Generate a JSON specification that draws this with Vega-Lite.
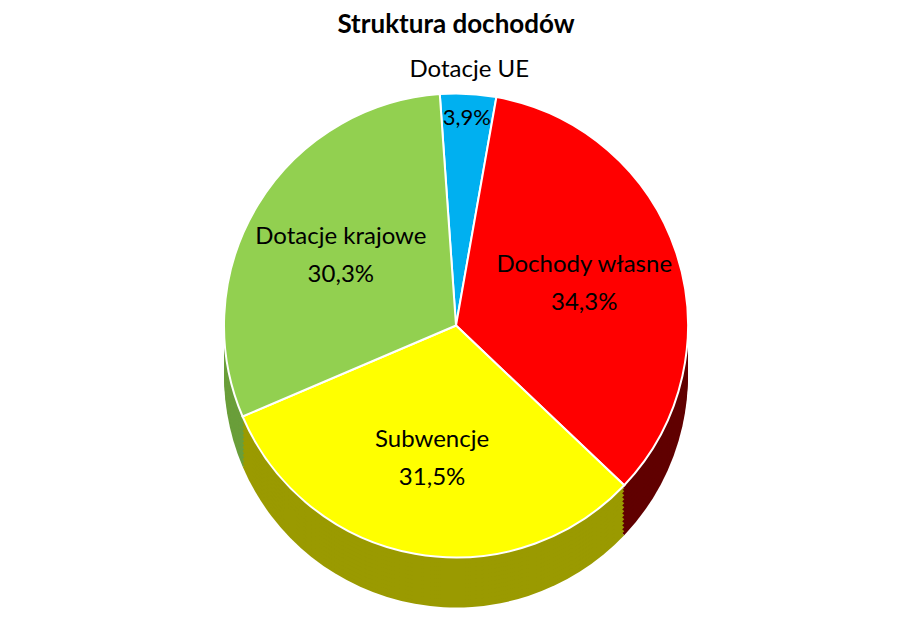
{
  "$schema": "https://vega.github.io/schema/vega-lite/v6.json",
  "width": 912,
  "height": 631,
  "autosize": {"type": "fit", "contains": "padding"},
  "padding": {"top": 12, "left": 0, "right": 0, "bottom": 0},
  "background": "white",
  "title": {"text": "Struktura dochodów", "font": "Lato", "fontSize": 26, "fontWeight": "bold", "color": "#000000", "offset": 2},
  "config": {
    "view": {"stroke": null},
    "locale": {"number": {"decimal": ",", "thousands": " ", "grouping": [3], "currency": ["", " zł"]}}
  },
  "data": {"values": [
    {"name": "Dotacje UE", "share": 0.039, "ord": 1},
    {"name": "Dochody własne", "share": 0.343, "ord": 2},
    {"name": "Subwencje", "share": 0.315, "ord": 3},
    {"name": "Dotacje krajowe", "share": 0.303, "ord": 4}
  ]},
  "encoding": {
    "theta": {"field": "share", "type": "quantitative", "stack": true, "scale": {"range": [-0.07, 6.2132]}},
    "order": {"field": "ord", "type": "quantitative"}
  },
  "layer": [
    {
      "encoding": {"color": {"field": "name", "type": "nominal", "legend": null, "scale": {"domain": ["Dotacje UE", "Dochody własne", "Subwencje", "Dotacje krajowe"], "range": ["#0080B0", "#600000", "#9A9A00", "#6A9E3A"]}}},
      "layer": [
        {"mark": {"type": "arc", "radius": 232, "yOffset": 40}},
        {"mark": {"type": "arc", "radius": 232, "yOffset": 36}},
        {"mark": {"type": "arc", "radius": 232, "yOffset": 32}},
        {"mark": {"type": "arc", "radius": 232, "yOffset": 28}},
        {"mark": {"type": "arc", "radius": 232, "yOffset": 24}},
        {"mark": {"type": "arc", "radius": 232, "yOffset": 20}},
        {"mark": {"type": "arc", "radius": 232, "yOffset": 16}},
        {"mark": {"type": "arc", "radius": 232, "yOffset": 12}},
        {"mark": {"type": "arc", "radius": 232, "yOffset": 8}},
        {"mark": {"type": "arc", "radius": 232, "yOffset": 4}},
        {"mark": {"type": "arc", "radius": 232, "yOffset": 0}},
        {"mark": {"type": "arc", "radius": 232, "yOffset": -4}},
        {"mark": {"type": "arc", "radius": 232, "yOffset": -7}}
      ]
    },
    {
      "layer": [
        {"mark": {"type": "arc", "radius": 232, "yOffset": -10, "stroke": "white", "strokeWidth": 2},
         "encoding": {"color": {"field": "name", "type": "nominal", "legend": null, "scale": {"domain": ["Dotacje UE", "Dochody własne", "Subwencje", "Dotacje krajowe"], "range": ["#00B0F0", "#FF0000", "#FFFF00", "#92D050"]}}}},
        {"mark": {"type": "text", "radius": 135, "yOffset": -10, "dy": -18, "font": "Lato", "fontSize": 24, "color": "#000000"},
         "encoding": {"text": {"field": "name", "type": "nominal"}, "opacity": {"condition": {"test": "datum.name === 'Dotacje UE'", "value": 0}, "value": 1}}},
        {"mark": {"type": "text", "radius": 135, "yOffset": -10, "dy": 20, "font": "Lato", "fontSize": 24, "color": "#000000"},
         "encoding": {"text": {"field": "share", "type": "quantitative", "format": ".1%"}, "opacity": {"condition": {"test": "datum.name === 'Dotacje UE'", "value": 0}, "value": 1}}},
        {"mark": {"type": "text", "radius": 252, "yOffset": -10, "dy": -4, "font": "Lato", "fontSize": 24, "color": "#000000"},
         "encoding": {"text": {"field": "name", "type": "nominal"}, "opacity": {"condition": {"test": "datum.name === 'Dotacje UE'", "value": 1}, "value": 0}}},
        {"mark": {"type": "text", "radius": 208, "yOffset": -10, "dy": 0, "font": "Lato", "fontSize": 22, "color": "#000000"},
         "encoding": {"text": {"field": "share", "type": "quantitative", "format": ".1%"}, "opacity": {"condition": {"test": "datum.name === 'Dotacje UE'", "value": 1}, "value": 0}}}
      ]
    }
  ],
  "resolve": {"scale": {"color": "independent"}}
}
